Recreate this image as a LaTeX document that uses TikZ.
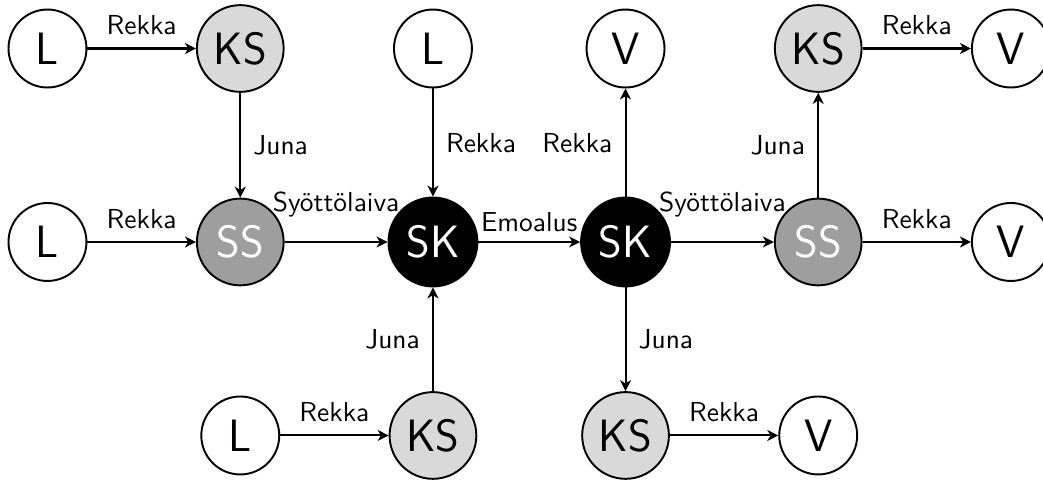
\documentclass[tikz,border=0pt]{standalone}
\usetikzlibrary{arrows.meta}
\begin{document}
\begin{tikzpicture}[x=1pt,y=1pt,
  base/.style={circle, draw=black, line width=0.7pt, inner sep=0pt, font=\sffamily\fontsize{16.5}{18}\selectfont},
  wnode/.style={base, fill=white, minimum size=28.4pt},
  ksnode/.style={base, fill=black!15, minimum size=31.6pt},
  ssnode/.style={base, fill=black!38, text=white, minimum size=31.6pt},
  sknode/.style={base, fill=black, text=white, minimum size=32.4pt},
  arr/.style={line width=0.75pt, -{Stealth[length=4pt,width=4pt,inset=1.2pt]}},
  lab/.style={font=\sffamily, inner sep=0pt, text depth=0pt}
]
\useasboundingbox (0,0) rectangle (380,-174.86);
% row 1
\node[wnode]  (l1)  at (17.30,-17.67) {L};
\node[ksnode] (ks1) at (87.54,-17.67) {KS};
\node[wnode]  (l2)  at (157.74,-17.67) {L};
\node[wnode]  (v1)  at (227.90,-17.67) {V};
\node[ksnode] (ks2) at (298.10,-17.67) {KS};
\node[wnode]  (v2)  at (368.30,-17.67) {V};
% row 2
\node[wnode]  (l3)  at (17.30,-88.16) {L};
\node[ssnode] (ss1) at (87.54,-88.16) {SS};
\node[sknode] (sk1) at (157.74,-88.16) {SK};
\node[sknode] (sk2) at (227.90,-88.16) {SK};
\node[ssnode] (ss2) at (298.10,-88.16) {SS};
\node[wnode]  (v3)  at (368.30,-88.16) {V};
% row 3
\node[wnode]  (l4)  at (87.54,-158.65) {L};
\node[ksnode] (ks3) at (157.74,-158.65) {KS};
\node[ksnode] (ks4) at (227.90,-158.65) {KS};
\node[wnode]  (v4)  at (298.10,-158.65) {V};
% edges
\draw[arr] (l1) -- node[lab, above=4.6pt] {Rekka} (ks1);
\draw[arr] (ks1) -- node[lab, right=4.4pt] {Juna} (ss1);
\draw[arr] (l3) -- node[lab, above=4.6pt] {Rekka} (ss1);
\draw[arr] (ss1) -- node[lab, above=10.9pt] {Syöttölaiva} (sk1);
\draw[arr] (l2) -- node[lab, right=4.4pt] {Rekka} (sk1);
\draw[arr] (ks3) -- node[lab, left=4.4pt] {Juna} (sk1);
\draw[arr] (l4) -- node[lab, above=4.6pt] {Rekka} (ks3);
\draw[arr] (sk1) -- node[lab, above=3.6pt] {Emoalus} (sk2);
\draw[arr] (sk2) -- node[lab, left=4.4pt] {Rekka} (v1);
\draw[arr] (sk2) -- node[lab, above=10.9pt] {Syöttölaiva} (ss2);
\draw[arr] (sk2) -- node[lab, right=4.4pt] {Juna} (ks4);
\draw[arr] (ks4) -- node[lab, above=4.6pt] {Rekka} (v4);
\draw[arr] (ss2) -- node[lab, left=4.4pt] {Juna} (ks2);
\draw[arr] (ks2) -- node[lab, above=4.6pt] {Rekka} (v2);
\draw[arr] (ss2) -- node[lab, above=4.6pt] {Rekka} (v3);
\end{tikzpicture}
\end{document}
